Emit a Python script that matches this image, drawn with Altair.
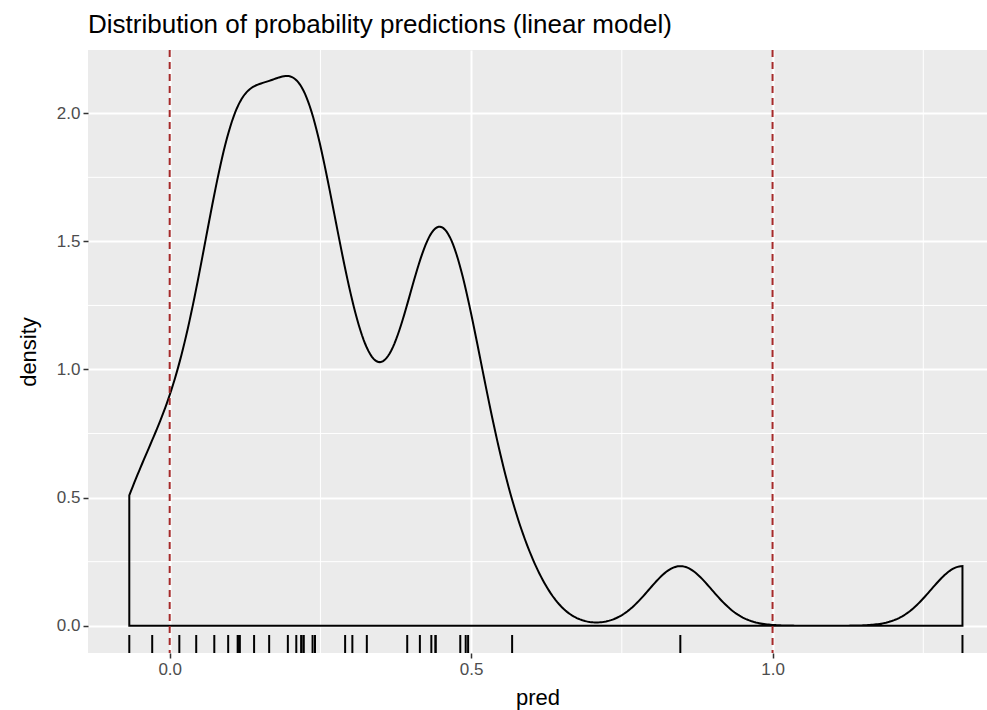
import altair as alt
import pandas as pd

# Predicted probabilities from the linear model (repeated values overlap on the rug)
pred = [-0.067, -0.029, 0.016, 0.044, 0.074, 0.097, 0.113, 0.113, 0.116,
        0.116, 0.140, 0.165, 0.196, 0.210, 0.218, 0.222, 0.222, 0.237,
        0.241, 0.291, 0.303, 0.327, 0.394, 0.415, 0.434, 0.441, 0.441,
        0.482, 0.491, 0.495, 0.568, 0.847, 1.315]

# Reference lines marking the valid probability range
bounds = [0.0, 1.0]

# Axis breaks
x_major = [0.0, 0.5, 1.0]
x_minor = [0.25, 0.75, 1.25]
y_major = [0.0, 0.5, 1.0, 1.5, 2.0]
y_minor = [0.25, 0.75, 1.25, 1.75]

FONT = "Liberation Sans"
W, H = 899, 603
x_dom = [-0.1355, 1.3557]
y_dom = [-0.1065, 2.247]

df = pd.DataFrame({"pred": pred})
xs = alt.Scale(domain=x_dom, nice=False, zero=False)
ys = alt.Scale(domain=y_dom, nice=False, zero=False)

x_axis = alt.Axis(values=x_major, format=".1f", title="pred", grid=True,
                  gridColor="white", gridWidth=2, domain=False,
                  tickColor="#333333", tickSize=5, tickWidth=1.5,
                  labelColor="#4D4D4D", labelFontSize=17, labelFont=FONT,
                  labelPadding=3, titleFont=FONT, titleFontSize=22,
                  titleFontWeight="normal", titleColor="black",
                  titlePadding=10)
y_axis = alt.Axis(values=y_major, format=".1f", title="density", grid=True,
                  gridColor="white", gridWidth=2, domain=False,
                  tickColor="#333333", tickSize=5, tickWidth=1.5,
                  labelColor="#4D4D4D", labelFontSize=17, labelFont=FONT,
                  labelPadding=3, titleFont=FONT, titleFontSize=22,
                  titleFontWeight="normal", titleColor="black",
                  titlePadding=16)

minor_v = alt.Chart(pd.DataFrame({"v": x_minor})).mark_rule(
    color="white", strokeWidth=1).encode(x=alt.X("v:Q", scale=xs, axis=x_axis))
minor_h = alt.Chart(pd.DataFrame({"v": y_minor})).mark_rule(
    color="white", strokeWidth=1).encode(y=alt.Y("v:Q", scale=ys, axis=y_axis))

density = alt.Chart(df).transform_density(
    "pred", as_=["pred", "density"], bandwidth=0.052,
    extent=[min(pred), max(pred)], steps=512
).mark_area(fillOpacity=0, stroke="black", strokeWidth=2, clip=True).encode(
    x=alt.X("pred:Q", scale=xs, axis=x_axis),
    y=alt.Y("density:Q", scale=ys, axis=y_axis),
)

rug = alt.Chart(df).mark_rule(color="black", strokeWidth=2).encode(
    x=alt.X("pred:Q", scale=xs, axis=x_axis),
    y=alt.value(H - 18), y2=alt.value(H),
)

vlines = alt.Chart(pd.DataFrame({"b": bounds})).mark_rule(
    color="#A52A2A", strokeWidth=2, strokeDash=[7, 5]).encode(
    x=alt.X("b:Q", scale=xs, axis=x_axis))

chart = alt.layer(minor_v, minor_h, density, rug, vlines).properties(
    width=W, height=H, background="white",
    title=alt.Title("Distribution of probability predictions (linear model)",
                    anchor="start", frame="group", font=FONT, fontSize=26,
                    fontWeight="normal", color="black", offset=11),
    autosize=alt.AutoSizeParams(type="none"),
    padding={"left": 88, "top": 50, "right": 0, "bottom": 57},
).configure_view(fill="#EBEBEB", stroke=None)

chart.save("out.html", embed_options={"renderer": "svg", "actions": False})
